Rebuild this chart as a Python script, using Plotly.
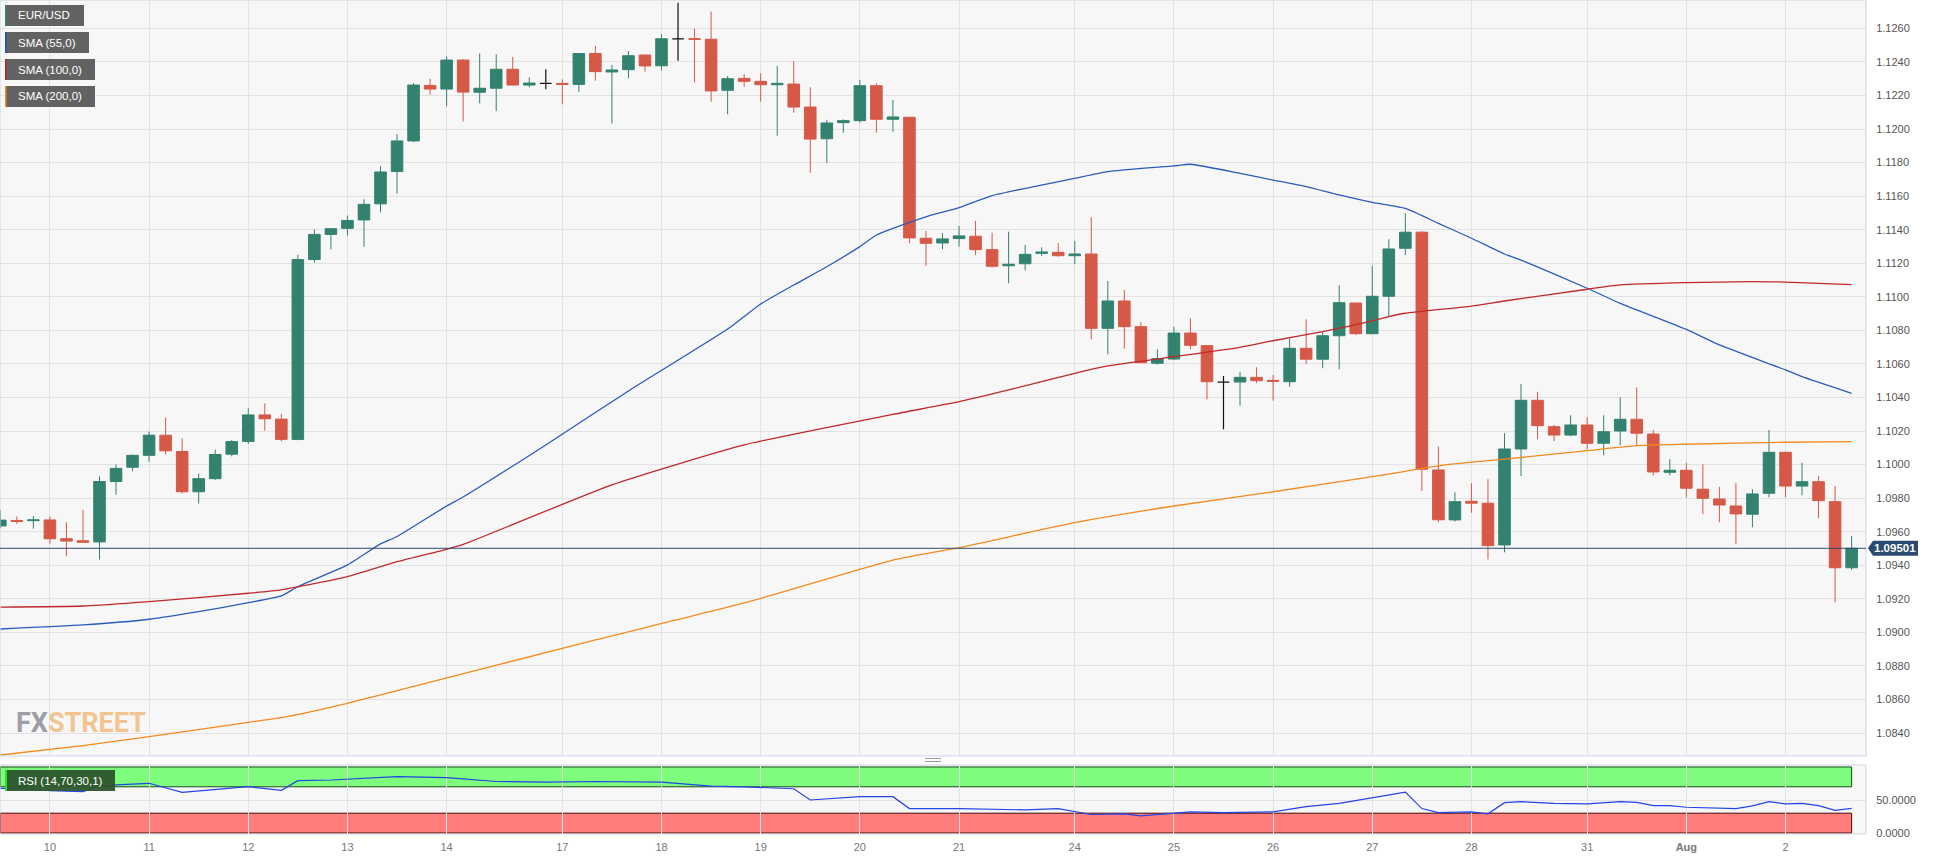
import plotly.graph_objects as go

# ---------------- data ----------------
H6 = [0, 4, 8, 12, 16, 20]
sessions = [
    ("2023-07-07", [16, 20]), ("2023-07-09", [21]),
    ("2023-07-10", H6), ("2023-07-11", H6), ("2023-07-12", H6), ("2023-07-13", H6), ("2023-07-14", H6),
    ("2023-07-16", [21]),
    ("2023-07-17", H6), ("2023-07-18", H6), ("2023-07-19", H6), ("2023-07-20", H6), ("2023-07-21", H6),
    ("2023-07-23", [21]),
    ("2023-07-24", H6), ("2023-07-25", H6), ("2023-07-26", H6), ("2023-07-27", H6), ("2023-07-28", H6),
    ("2023-07-30", [21]),
    ("2023-07-31", H6), ("2023-08-01", H6), ("2023-08-02", [0, 4, 8, 12, 16]),
]
times = [f"{d} {h:02d}:00" for d, hs in sessions for h in hs]

tick_times = ["2023-07-10 00:00", "2023-07-11 00:00", "2023-07-12 00:00", "2023-07-13 00:00",
              "2023-07-14 00:00", "2023-07-17 00:00", "2023-07-18 00:00", "2023-07-19 00:00",
              "2023-07-20 00:00", "2023-07-21 00:00", "2023-07-24 00:00", "2023-07-25 00:00",
              "2023-07-26 00:00", "2023-07-27 00:00", "2023-07-28 00:00", "2023-07-31 00:00",
              "2023-08-01 00:00", "2023-08-02 00:00"]
tick_text = ["10", "11", "12", "13", "14", "17", "18", "19", "20", "21",
             "24", "25", "26", "27", "28", "31", "<b>Aug</b>", "2"]

open_ = [
    1.09634, 1.09667, 1.09666,
    1.09670, 1.09558, 1.09546, 1.09539, 1.09899, 1.09984,
    1.10055, 1.10175, 1.10078, 1.09838, 1.09916, 1.10062,
    1.10138, 1.10296, 1.10271, 1.10150, 1.11222, 1.11372,
    1.11408, 1.11458, 1.11554, 1.11747, 1.11929, 1.12260,
    1.12238, 1.12411, 1.12219, 1.12243, 1.12356, 1.12262,
    1.12272,
    1.12272, 1.12266, 1.12450, 1.12340, 1.12354, 1.12441,
    1.12377, 1.12537, 1.12538, 1.12535, 1.12231, 1.12302,
    1.12284, 1.12264, 1.12268, 1.12131, 1.11942, 1.12038,
    1.12050, 1.12258, 1.12058, 1.12070, 1.11349, 1.11321,
    1.11347, 1.11361, 1.11281, 1.11185, 1.11197, 1.11259,
    1.11265,
    1.11245, 1.11255, 1.10812, 1.10975, 1.10822, 1.10604,
    1.10629, 1.10784, 1.10709, 1.10492, 1.10492, 1.10520,
    1.10502, 1.10494, 1.10693, 1.10628, 1.10768, 1.10963,
    1.10780, 1.11003, 1.11289, 1.11385, 1.09968, 1.09670,
    1.09781, 1.09770, 1.09521, 1.10093, 1.10383, 1.10226,
    1.10176,
    1.10236, 1.10127, 1.10200, 1.10270, 1.10182, 1.09954,
    1.09966, 1.09853, 1.09795, 1.09753, 1.09704, 1.09829,
    1.10073, 1.09872, 1.09898, 1.09779, 1.09385,
]
high = [
    1.09729, 1.09691, 1.09694,
    1.09690, 1.09656, 1.09730, 1.09930, 1.10000, 1.10060,
    1.10197, 1.10280, 1.10156, 1.09947, 1.10089, 1.10146,
    1.10336, 1.10365, 1.10302, 1.11251, 1.11401, 1.11410,
    1.11484, 1.11581, 1.11778, 1.11969, 1.12274, 1.12299,
    1.12433, 1.12415, 1.12450, 1.12445, 1.12430, 1.12308,
    1.12356,
    1.12296, 1.12452, 1.12495, 1.12382, 1.12465, 1.12445,
    1.12565, 1.12753, 1.12598, 1.12700, 1.12316, 1.12328,
    1.12332, 1.12376, 1.12405, 1.12249, 1.12054, 1.12058,
    1.12292, 1.12272, 1.12173, 1.12072, 1.11392, 1.11379,
    1.11422, 1.11452, 1.11382, 1.11388, 1.11309, 1.11295,
    1.11321,
    1.11333, 1.11474, 1.11094, 1.11041, 1.10848, 1.10687,
    1.10822, 1.10872, 1.10710, 1.10528, 1.10552, 1.10580,
    1.10534, 1.10749, 1.10866, 1.10792, 1.11069, 1.10965,
    1.11184, 1.11343, 1.11498, 1.11391, 1.10107, 1.09835,
    1.09889, 1.09913, 1.10187, 1.10480, 1.10433, 1.10236,
    1.10294,
    1.10282, 1.10294, 1.10401, 1.10460, 1.10206, 1.10032,
    1.10011, 1.10002, 1.09868, 1.09889, 1.09853, 1.10206,
    1.10078, 1.10011, 1.09932, 1.09872, 1.09574,
]
low = [
    1.09620, 1.09646, 1.09618,
    1.09528, 1.09454, 1.09533, 1.09434, 1.09820, 1.09960,
    1.10017, 1.10060, 1.09827, 1.09768, 1.09909, 1.10049,
    1.10123, 1.10202, 1.10138, 1.10145, 1.11204, 1.11283,
    1.11365, 1.11298, 1.11503, 1.11615, 1.11923, 1.12205,
    1.12135, 1.12045, 1.12153, 1.12107, 1.12258, 1.12249,
    1.12237,
    1.12147, 1.12222, 1.12288, 1.12032, 1.12302, 1.12342,
    1.12348, 1.12407, 1.12278, 1.12163, 1.12088, 1.12252,
    1.12163, 1.11960, 1.12097, 1.11740, 1.11799, 1.11978,
    1.12038, 1.11978, 1.11984, 1.11319, 1.11185, 1.11283,
    1.11299, 1.11249, 1.11174, 1.11081, 1.11158, 1.11243,
    1.11239,
    1.11194, 1.10747, 1.10657, 1.10691, 1.10605, 1.10595,
    1.10623, 1.10687, 1.10389, 1.10210, 1.10351, 1.10485,
    1.10381, 1.10464, 1.10600, 1.10574, 1.10568, 1.10772,
    1.10778, 1.10882, 1.11249, 1.09843, 1.09656, 1.09660,
    1.09713, 1.09435, 1.09477, 1.09932, 1.10151, 1.10140,
    1.10170,
    1.10091, 1.10055, 1.10115, 1.10117, 1.09936, 1.09936,
    1.09803, 1.09704, 1.09656, 1.09525, 1.09626, 1.09805,
    1.09805, 1.09817, 1.09680, 1.09179, 1.09372,
]
close = [
    1.09669, 1.09661, 1.09670,
    1.09558, 1.09544, 1.09537, 1.09899, 1.09977, 1.10055,
    1.10175, 1.10082, 1.09838, 1.09916, 1.10060, 1.10137,
    1.10296, 1.10273, 1.10150, 1.11222, 1.11372, 1.11406,
    1.11455, 1.11551, 1.11744, 1.11929, 1.12262, 1.12238,
    1.12411, 1.12220, 1.12243, 1.12356, 1.12262, 1.12274,
    1.12272,
    1.12266, 1.12450, 1.12342, 1.12352, 1.12437, 1.12376,
    1.12538, 1.12537, 1.12535, 1.12227, 1.12300, 1.12284,
    1.12264, 1.12272, 1.12131, 1.11940, 1.12036, 1.12050,
    1.12258, 1.12058, 1.12072, 1.11351, 1.11319, 1.11345,
    1.11363, 1.11281, 1.11182, 1.11194, 1.11253, 1.11267,
    1.11245,
    1.11255, 1.10812, 1.10975, 1.10822, 1.10607, 1.10631,
    1.10784, 1.10711, 1.10494, 1.10492, 1.10520, 1.10500,
    1.10496, 1.10693, 1.10628, 1.10768, 1.10965, 1.10780,
    1.11003, 1.11285, 1.11385, 1.09972, 1.09671, 1.09779,
    1.09770, 1.09517, 1.10093, 1.10383, 1.10232, 1.10176,
    1.10236,
    1.10127, 1.10196, 1.10270, 1.10187, 1.09956, 1.09966,
    1.09859, 1.09799, 1.09759, 1.09706, 1.09825, 1.10073,
    1.09872, 1.09898, 1.09785, 1.09385, 1.09501,
]

# moving averages (candle position -> value)
sma55_at = [0, 5, 9, 12, 15, 17, 18, 21, 23, 24, 27, 28, 33, 38, 44, 46, 48, 50, 52, 53, 54, 56,
            58, 60, 65, 67, 71, 72, 75, 77, 79, 81, 83, 85, 87, 89, 91, 92, 96, 98, 102, 104,
            108, 109, 112]
sma55 = [1.09020, 1.09044, 1.09078, 1.09123, 1.09177, 1.09217, 1.09272, 1.09402, 1.09527, 1.09571,
         1.09753, 1.09807, 1.10117, 1.10439, 1.10808, 1.10957, 1.11070, 1.11179, 1.11299, 1.11368,
         1.11408, 1.11477, 1.11531, 1.11603, 1.11706, 1.11746, 1.11780, 1.11790, 1.11736, 1.11696,
         1.11656, 1.11607, 1.11563, 1.11527, 1.11438, 1.11349, 1.11255, 1.11219, 1.11051, 1.10961,
         1.10806, 1.10713, 1.10564, 1.10524, 1.10425]

sma100_at = [0, 5, 9, 15, 17, 21, 24, 27, 28, 37, 45, 54, 58, 61, 65, 67, 71, 75, 77, 80, 83, 84,
             85, 89, 91, 96, 98, 102, 106, 108, 112]
sma100 = [1.09150, 1.09157, 1.09183, 1.09233, 1.09253, 1.09332, 1.09421, 1.09495, 1.09524, 1.09879,
          1.10117, 1.10299, 1.10375, 1.10445, 1.10544, 1.10588, 1.10643, 1.10699, 1.10738, 1.10792,
          1.10856, 1.10882, 1.10902, 1.10945, 1.10975, 1.11045, 1.11071, 1.11084, 1.11090, 1.11088,
          1.11072]

sma200_at = [0, 5, 9, 15, 17, 21, 24, 36, 45, 54, 58, 65, 71, 77, 83, 85, 87, 89, 91, 96, 99, 102,
             108, 112]
sma200 = [1.08269, 1.08325, 1.08378, 1.08464, 1.08492, 1.08577, 1.08652, 1.08955, 1.09175, 1.09431,
          1.09505, 1.09654, 1.09753, 1.09838, 1.09928, 1.09960, 1.09992, 1.10014, 1.10032, 1.10083,
          1.10113, 1.10121, 1.10133, 1.10137]

rsi_at = [0, 2, 3, 5, 6, 9, 11, 12, 15, 17, 18, 20, 24, 27, 30, 33, 36, 40, 43, 45, 48, 49, 52,
          54, 55, 58, 62, 64, 66, 68, 69, 72, 74, 77, 79, 81, 83, 85, 86, 87, 89, 90, 91, 92, 94,
          96, 98, 99, 100, 101, 102, 105, 106, 107, 108, 109, 110, 111, 112]
rsi = [67.7, 67.0, 64.0, 62.6, 71.7, 75.3, 61.7, 64.0, 70.2, 64.6, 79.3, 80.3, 85.3, 84.0, 78.0,
       77.0, 78.0, 77.0, 71.0, 70.0, 67.0, 50.0, 55.0, 55.0, 37.0, 37.0, 35.0, 37.0, 28.0, 29.0,
       26.0, 32.0, 31.0, 32.0, 40.0, 45.0, 53.0, 62.0, 37.0, 31.0, 32.0, 29.0, 46.0, 47.5, 45.0,
       44.0, 47.5, 46.5, 41.4, 41.4, 39.0, 36.8, 41.0, 47.5, 44.0, 45.0, 41.4, 34.4, 37.4]

# ---------------- layout geometry ----------------
W, H = 1937, 860
ML, MR, MT, MB = 0, 71, 0, 26
PW, PH = W - ML - MR, H - MT - MB


def fx(px):
    return px / PW


def fy(py):
    return 1 - py / PH


PRICE_BOTTOM_PX = 756
RSI_TOP_PX = 765
PRICE_DOM = [fy(PRICE_BOTTOM_PX), 1.0]
RSI_DOM = [0.0, fy(RSI_TOP_PX)]
PRICE_RANGE = [1.08263, 1.12769]
RSI_RANGE = [-1.5, 103]
X_RANGE = [-0.02, 112.87]

GREEN = "#338270"
RED = "#d65947"
BLUE = "#2b5cbd"
DRED = "#c0282c"
ORANGE = "#f58a1f"
NAVY = "#2b4a70"
GRID = "#e3e3e3"
BORDER = "#cdd5e5"
FONT = "Liberation Sans, Arial, sans-serif"

fig = go.Figure()

main_idx = [k for k in range(len(times)) if open_[k] != close[k]]
doji_idx = [k for k in range(len(times)) if open_[k] == close[k]]

fig.add_trace(go.Candlestick(
    x=[times[k] for k in main_idx],
    open=[open_[k] for k in main_idx], high=[high[k] for k in main_idx],
    low=[low[k] for k in main_idx], close=[close[k] for k in main_idx],
    increasing=dict(line=dict(color=GREEN, width=1), fillcolor=GREEN),
    decreasing=dict(line=dict(color=RED, width=1), fillcolor=RED),
    whiskerwidth=0, showlegend=False, hoverinfo="skip", xaxis="x", yaxis="y"))
fig.add_trace(go.Candlestick(
    x=[times[k] for k in doji_idx],
    open=[open_[k] for k in doji_idx], high=[high[k] for k in doji_idx],
    low=[low[k] for k in doji_idx], close=[close[k] for k in doji_idx],
    increasing=dict(line=dict(color="#111111", width=1.2), fillcolor="#111111"),
    decreasing=dict(line=dict(color="#111111", width=1.2), fillcolor="#111111"),
    whiskerwidth=0, showlegend=False, hoverinfo="skip", xaxis="x", yaxis="y"))

for at, vals, col in [(sma55_at, sma55, BLUE), (sma100_at, sma100, DRED), (sma200_at, sma200, ORANGE)]:
    fig.add_trace(go.Scatter(x=[times[k] for k in at], y=vals, mode="lines",
                             line=dict(color=col, width=1.3, shape="spline", smoothing=0.5),
                             showlegend=False, hoverinfo="skip", xaxis="x", yaxis="y"))

fig.add_trace(go.Scatter(x=[times[k] for k in rsi_at], y=rsi, mode="lines",
                         line=dict(color="#2443e8", width=1.2),
                         showlegend=False, hoverinfo="skip", xaxis="x", yaxis="y2"))

shapes = []
last = len(times) - 1
shapes.append(dict(type="rect", xref="x", yref="y2", x0=0, x1=last, y0=70, y1=100,
                   fillcolor="#7dfc7d", line=dict(color="#174d17", width=1), layer="below"))
shapes.append(dict(type="rect", xref="x", yref="y2", x0=0, x1=last, y0=0, y1=30,
                   fillcolor="#ff7d7b", line=dict(color="#4a0808", width=1), layer="below"))
shapes.append(dict(type="rect", xref="paper", yref="y domain", x0=0, x1=1, y0=0, y1=1,
                   line=dict(color=BORDER, width=1), fillcolor="rgba(0,0,0,0)"))
shapes.append(dict(type="rect", xref="paper", yref="y2 domain", x0=0, x1=1, y0=0, y1=1,
                   line=dict(color=BORDER, width=1), fillcolor="rgba(0,0,0,0)"))
shapes.append(dict(type="line", xref="paper", yref="y", x0=0, x1=1, y0=close[-1], y1=close[-1],
                   line=dict(color=NAVY, width=1)))


def price_px(v):
    return (PRICE_RANGE[1] - v) / (PRICE_RANGE[1] - PRICE_RANGE[0]) * PRICE_BOTTOM_PX


lp = price_px(close[-1])
path = (f"M {fx(PW + 2)},{fy(lp)} L {fx(PW + 7)},{fy(lp - 7.5)} L {fx(PW + 52)},{fy(lp - 7.5)} "
        f"L {fx(PW + 52)},{fy(lp + 7.5)} L {fx(PW + 7)},{fy(lp + 7.5)} Z")
shapes.append(dict(type="path", xref="paper", yref="paper", path=path,
                   fillcolor=NAVY, line=dict(width=0)))

legend_items = [("EUR/USD", GREEN, 5, 84, 5, 26), ("SMA (55,0)", "#1f4fb0", 5, 89, 32, 53),
                ("SMA (100,0)", "#c01c20", 5, 95, 59, 80), ("SMA (200,0)", "#f58a1f", 5, 95, 86, 107)]
annotations = []
for txt, col, x0, x1, y0, y1 in legend_items:
    shapes.append(dict(type="rect", xref="paper", yref="paper", x0=fx(x0), x1=fx(x1), y0=fy(y1), y1=fy(y0),
                       fillcolor="rgba(85,85,85,0.92)", line=dict(width=0)))
    shapes.append(dict(type="rect", xref="paper", yref="paper", x0=fx(x0), x1=fx(x0 + 1.5), y0=fy(y1), y1=fy(y0),
                       fillcolor=col, line=dict(width=0)))
    annotations.append(dict(text=txt, xref="paper", yref="paper", x=fx(16), y=fy((y0 + y1) / 2),
                            xanchor="left", yanchor="middle", showarrow=False,
                            font=dict(family=FONT, size=11.5, color="white")))
shapes.append(dict(type="rect", xref="paper", yref="paper", x0=fx(5), x1=fx(115), y0=fy(791), y1=fy(770),
                   fillcolor="rgba(45,85,45,0.95)", line=dict(width=0)))
shapes.append(dict(type="rect", xref="paper", yref="paper", x0=fx(5), x1=fx(7), y0=fy(791), y1=fy(770),
                   fillcolor="#1bea1b", line=dict(width=0)))
annotations.append(dict(text="RSI (14,70,30,1)", xref="paper", yref="paper", x=fx(16), y=fy(780.5),
                        xanchor="left", yanchor="middle", showarrow=False,
                        font=dict(family=FONT, size=11.5, color="white")))
annotations.append(dict(text=f"<b>{close[-1]:.5f}</b>", xref="paper", yref="paper", x=fx(PW + 29.5), y=fy(lp),
                        xanchor="center", yanchor="middle", showarrow=False,
                        font=dict(family=FONT, size=11.5, color="white")))
annotations.append(dict(text="<span style='color:#9c9fa4'>FX</span><span style='color:#f2c590'>STREET</span>",
                        xref="paper", yref="paper", x=fx(14), y=fy(741), xanchor="left", yanchor="bottom",
                        showarrow=False,
                        font=dict(family="Roboto, Liberation Sans, sans-serif",
                                  size=27, color="#9c9fa4", weight="bold")))
for py in (758.5, 761.5):
    shapes.append(dict(type="line", xref="paper", yref="paper", x0=fx(925), x1=fx(941), y0=fy(py), y1=fy(py),
                       line=dict(color="#9a9a9a", width=1)))

fig.update_layout(
    width=W, height=H, margin=dict(l=ML, r=MR, t=MT, b=MB, pad=0),
    paper_bgcolor="white", plot_bgcolor="#f7f7f7",
    boxgap=0.3, boxgroupgap=0.0,
    shapes=shapes, annotations=annotations,
    xaxis=dict(type="category", categoryorder="array", categoryarray=times, range=X_RANGE,
               anchor="y2", tickmode="array", tickvals=tick_times, ticktext=tick_text,
               showgrid=True, gridcolor=GRID, gridwidth=1, ticks="outside", ticklen=3,
               tickcolor="rgba(0,0,0,0)", showline=False, zeroline=False,
               tickfont=dict(family=FONT, size=11, color="#777777"),
               rangeslider=dict(visible=False), fixedrange=True),
    yaxis=dict(domain=PRICE_DOM, range=PRICE_RANGE, side="right", anchor="x",
               tickmode="linear", tick0=1.084, dtick=0.002, tickformat=".4f",
               showgrid=True, gridcolor=GRID, zeroline=False, showline=False,
               ticks="outside", ticklen=7, tickcolor="rgba(0,0,0,0)",
               tickfont=dict(family=FONT, size=11, color="#555555")),
    yaxis2=dict(domain=RSI_DOM, range=RSI_RANGE, side="right", anchor="x",
                tickmode="array", tickvals=[0, 50], tickformat=".4f",
                showgrid=True, gridcolor=GRID, zeroline=False, showline=False,
                ticks="outside", ticklen=7, tickcolor="rgba(0,0,0,0)",
                tickfont=dict(family=FONT, size=11, color="#555555")),
    font=dict(family=FONT),
)

fig.write_html("out.html")
